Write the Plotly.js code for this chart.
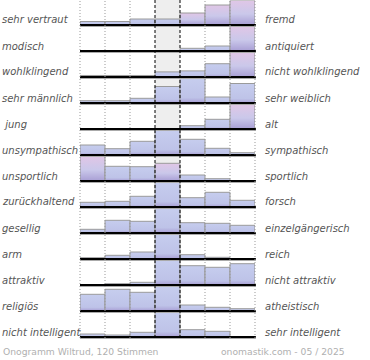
<!DOCTYPE html>
<html><head><meta charset="utf-8">
<script src="https://cdn.plot.ly/plotly-3.0.1.min.js"></script>
<style>html,body{margin:0;padding:0;background:#fff;} #chart{width:370px;height:360px;}</style>
</head><body><div id="chart"></div>
<script>
const columns = [1, 2, 3, 4, 5, 6, 7];
const leftLabels = ["sehr vertraut","modisch","wohlklingend","sehr männlich"," jung","unsympathisch","unsportlich","zurückhaltend","gesellig","arm","attraktiv","religiös","nicht intelligent"];
const rightLabels = ["fremd","antiquiert","nicht wohlklingend","sehr weiblich","alt","sympathisch","sportlich","forsch","einzelgängerisch","reich","nicht attraktiv","atheistisch","sehr intelligent"];

const vertraut       = [3.5, 3.5, 6, 6, 12, 20, 24.5];
const modisch        = [0, 0, 0, 0.5, 2.7, 5, 24.5];
const wohlklingend   = [1.5, 1.5, 1.5, 5, 6, 13, 24];
const maennlich      = [2.3, 2.3, 4.7, 16.5, 24.5, 6, 19.5];
const jung           = [0, 0, 0, 0, 3.3, 9.7, 24.5];
const unsympathisch  = [10, 6.3, 13.7, 24.5, 15.7, 6.7, 2.3];
const unsportlich    = [24.5, 14.7, 14.3, 17.7, 6, 2.3, 0];
const zurueckhaltend = [4.7, 5.7, 10.7, 24.5, 9.3, 14.7, 6.7];
const gesellig       = [3.7, 12.7, 11.7, 24.5, 10.3, 9.7, 7.7];
const arm            = [1.3, 3.7, 7, 24.5, 4.3, 1.7, 0];
const attraktiv      = [0, 1.3, 2.7, 24.5, 19.3, 17.7, 21.3];
const religioes      = [16.7, 21.7, 18.7, 24.5, 6, 3.7, 2.3];
const intelligent    = [3, 2, 4.7, 24.5, 7.3, 5.7, 0];

const rows = [vertraut, modisch, wohlklingend, maennlich, jung, unsympathisch, unsportlich,
              zurueckhaltend, gesellig, arm, attraktiv, religioes, intelligent];
const footerLeft = "Onogramm Wiltrud, 120 Stimmen";
const footerRight = "onomastik.com - 05 / 2025";

// style: which bars get a pink tint at the top
const pinkBars = {0: [4, 5, 6], 1: [6], 2: [6], 4: [6], 6: [0, 3]};

// layout geometry (pixels)
const W = 370, HT = 360, ML = 80, MR = 115, MT = 0, MB = 22;
const PW = W - ML - MR, PH = HT - MT - MB;
const rowStep = 26, firstBase = 25, rowH = 24.5;
const py = p => (PH - (p - MT)) / PH;
const px = p => (p - ML) / PW;

const data = [];
const layout = {
  width: W, height: HT, autosize: false,
  margin: {l: ML, r: MR, t: MT, b: MB, pad: 0},
  paper_bgcolor: '#ffffff', plot_bgcolor: 'rgba(0,0,0,0)',
  showlegend: false, barmode: 'overlay', bargap: 0,
  xaxis: {range: [0.5, 7.5], visible: false, fixedrange: true},
  shapes: [], annotations: [],
  font: {family: 'DejaVu Sans', size: 10, color: '#555'}
};

layout.shapes.push({type: 'rect', xref: 'paper', yref: 'paper', x0: 3/7, x1: 4/7, y0: 0, y1: 1,
  fillcolor: '#eeeeee', line: {width: 0}, layer: 'below'});

rows.forEach((vals, i) => {
  const key = i === 0 ? 'y' : 'y' + (i + 1);
  const lkey = i === 0 ? 'yaxis' : 'yaxis' + (i + 1);
  const base = firstBase + rowStep * i;
  layout[lkey] = {domain: [py(base), py(base - rowH)], range: [0, Math.max(...vals)],
    visible: false, fixedrange: true, anchor: 'x'};
  const pinks = pinkBars[i] || [];
  data.push({type: 'bar', x: columns, y: vals, xaxis: 'x', yaxis: key, width: 1,
    marker: {color: columns.map((c, k) => pinks.includes(k) ? '#d6c6e8' : '#c2c8ea'),
             line: {color: '#9a9a9a', width: 1}},
    hoverinfo: 'none'});
  layout.shapes.push({type: 'line', xref: 'paper', yref: 'paper', x0: 0, x1: 1.005,
    y0: py(base + 1.5), y1: py(base + 1.5), line: {color: '#aaaaaa', width: 1}, layer: 'above'});
  layout.shapes.push({type: 'line', xref: 'paper', yref: 'paper', x0: 0, x1: 1.005,
    y0: py(base), y1: py(base), line: {color: '#000000', width: 2}, layer: 'above'});
  layout.annotations.push({xref: 'paper', yref: 'paper', x: px(0), y: py(base - 5),
    xanchor: 'left', yanchor: 'middle', showarrow: false, text: leftLabels[i],
    font: {family: 'DejaVu Sans', size: 10, color: '#555', style: 'italic'}});
  layout.annotations.push({xref: 'paper', yref: 'paper', x: px(263), y: py(base - 5),
    xanchor: 'left', yanchor: 'middle', showarrow: false, text: rightLabels[i],
    font: {family: 'DejaVu Sans', size: 10, color: '#555', style: 'italic'}});
});

for (let k = 0; k <= 7; k++) {
  const mid = (k === 3 || k === 4);
  layout.shapes.push({type: 'line', xref: 'paper', yref: 'paper', x0: k/7, x1: k/7, y0: 0, y1: 1,
    line: {color: mid ? '#000000' : '#999999', width: 1, dash: mid ? '3px,2px' : '1px,2px'}, layer: 'above'});
}

layout.annotations.push({xref: 'paper', yref: 'paper', x: px(1), y: py(351), xanchor: 'left',
  yanchor: 'middle', showarrow: false, text: footerLeft,
  font: {family: 'DejaVu Sans', size: 9.2, color: '#b0b0b0'}});
layout.annotations.push({xref: 'paper', yref: 'paper', x: px(347), y: py(351), xanchor: 'right',
  yanchor: 'middle', showarrow: false, text: footerRight,
  font: {family: 'DejaVu Sans', size: 9.2, color: '#b0b0b0'}});

Plotly.newPlot('chart', data, layout, {staticPlot: true, displayModeBar: false}).then(gd => {
  const ns = 'http://www.w3.org/2000/svg';
  const svg = gd.querySelector('.main-svg');
  let defs = svg.querySelector('defs');
  if (!defs) { defs = document.createElementNS(ns, 'defs'); svg.insertBefore(defs, svg.firstChild); }
  function grad(id, stops) {
    const g = document.createElementNS(ns, 'linearGradient');
    g.setAttribute('id', id);
    g.setAttribute('x1', '0'); g.setAttribute('y1', '0'); g.setAttribute('x2', '0'); g.setAttribute('y2', '1');
    stops.forEach(([o, c]) => {
      const s = document.createElementNS(ns, 'stop');
      s.setAttribute('offset', o); s.setAttribute('stop-color', c); g.appendChild(s);
    });
    defs.appendChild(g);
  }
  grad('gBlue', [['0', '#c6cdee'], ['0.78', '#bec3e8'], ['1', '#a89ed4']]);
  grad('gPink', [['0', '#e0c6e6'], ['0.55', '#cac8ea'], ['1', '#a89ed4']]);
  gd.querySelectorAll('.barlayer .trace').forEach(tr => {
    const cd = tr.__data__;
    if (!cd || !cd[0]) return;
    const ti = cd[0].trace.index;
    const pinks = pinkBars[ti] || [];
    tr.querySelectorAll('.point').forEach((pt, k) => {
      const d = pt.__data__;
      const idx = (d && d.i !== undefined) ? d.i : k;
      const path = pt.querySelector('path');
      if (path) path.style.fill = pinks.includes(idx) ? 'url(#gPink)' : 'url(#gBlue)';
    });
  });
});
</script>
</body></html>
